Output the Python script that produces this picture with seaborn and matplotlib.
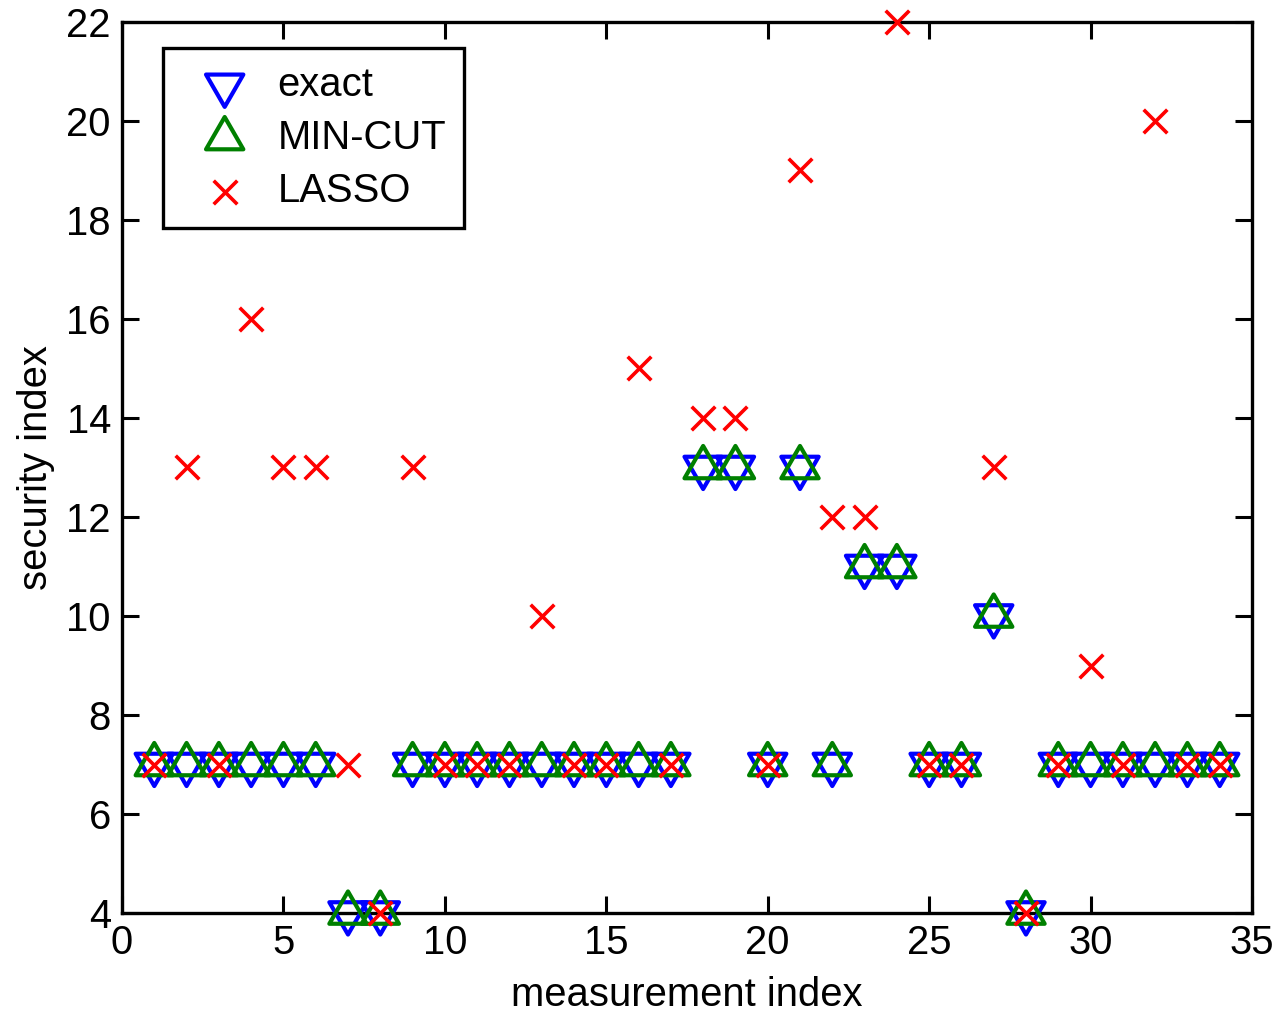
import matplotlib
matplotlib.use("Agg")
import matplotlib.pyplot as plt
import numpy as np
import seaborn as sns
from matplotlib.path import Path

# measurement indices 1..34
measurement = list(range(1, 35))

exact = [7, 7, 7, 7, 7, 7, 4, 4, 7, 7, 7, 7, 7, 7, 7, 7, 7,
         13, 13, 7, 13, 7, 11, 11, 7, 7, 10, 4, 7, 7, 7, 7, 7, 7]
min_cut = [7, 7, 7, 7, 7, 7, 4, 4, 7, 7, 7, 7, 7, 7, 7, 7, 7,
           13, 13, 7, 13, 7, 11, 11, 7, 7, 10, 4, 7, 7, 7, 7, 7, 7]
lasso = [7, 13, 7, 16, 13, 13, 7, 4, 13, 7, 7, 7, 10, 7, 7, 15, 7,
         14, 14, 7, 19, 12, 12, 22, 7, 7, 13, 4, 7, 9, 7, 20, 7, 7]

x_ticks = [0, 5, 10, 15, 20, 25, 30, 35]
y_ticks = [4, 6, 8, 10, 12, 14, 16, 18, 20, 22]

FS = 28.8

sns.set_style("ticks")
plt.rcParams["font.family"] = ["Liberation Sans", "DejaVu Sans"]
plt.rcParams["font.size"] = FS
for key in ("text.color", "axes.labelcolor", "xtick.color", "ytick.color"):
    plt.rcParams[key] = "black"

# MATLAB-like triangles, centred on their centroid
h1, h2 = 1 / np.sqrt(3), 2 / np.sqrt(3)
tri_down = Path([(-1, h1), (1, h1), (0, -h2), (-1, h1)], closed=True)
tri_up = Path([(-1, -h1), (1, -h1), (0, h2), (-1, -h1)], closed=True)

fig, ax = plt.subplots(figsize=(12.8, 10.13), dpi=100)
fig.subplots_adjust(left=122 / 1280, right=1252 / 1280,
                    top=1 - 22 / 1013, bottom=1 - 913 / 1013)

tri_size = 31 ** 2
sns.scatterplot(x=measurement, y=exact, marker=tri_down, s=tri_size,
                facecolors="none", edgecolors="#0000ff", linewidths=3,
                label="exact", ax=ax, zorder=3)
sns.scatterplot(x=measurement, y=min_cut, marker=tri_up, s=tri_size,
                facecolors="none", edgecolors="#008000", linewidths=3,
                label="MIN-CUT", ax=ax, zorder=4)
sns.scatterplot(x=measurement, y=lasso, marker="x", s=17 ** 2,
                color="#ff0000", linewidths=2.6,
                label="LASSO", ax=ax, zorder=5)

ax.set_xlim(0, 35)
ax.set_ylim(4, 22)
ax.set_xticks(x_ticks)
ax.set_yticks(y_ticks)
ax.tick_params(direction="in", length=12, width=2.2, labelsize=FS,
               top=True, right=True, pad=8)
for spine in ax.spines.values():
    spine.set_visible(True)
    spine.set_linewidth(2.4)
    spine.set_color("black")
for coll in ax.collections:
    coll.set_clip_on(False)

ax.set_xlabel("measurement index", fontsize=FS, labelpad=10)
ax.set_ylabel("security index", fontsize=FS, labelpad=8)

leg = ax.legend(loc="upper left", bbox_to_anchor=(0.036, 0.971),
                borderaxespad=0, fancybox=False, frameon=True,
                fontsize=FS, handletextpad=0.225, labelspacing=0.38,
                borderpad=0.45, handlelength=2.2)
leg.get_frame().set_edgecolor("black")
leg.get_frame().set_linewidth(2.4)
leg.get_frame().set_alpha(1)

plt.savefig("out.png", dpi=100)
plt.close()
